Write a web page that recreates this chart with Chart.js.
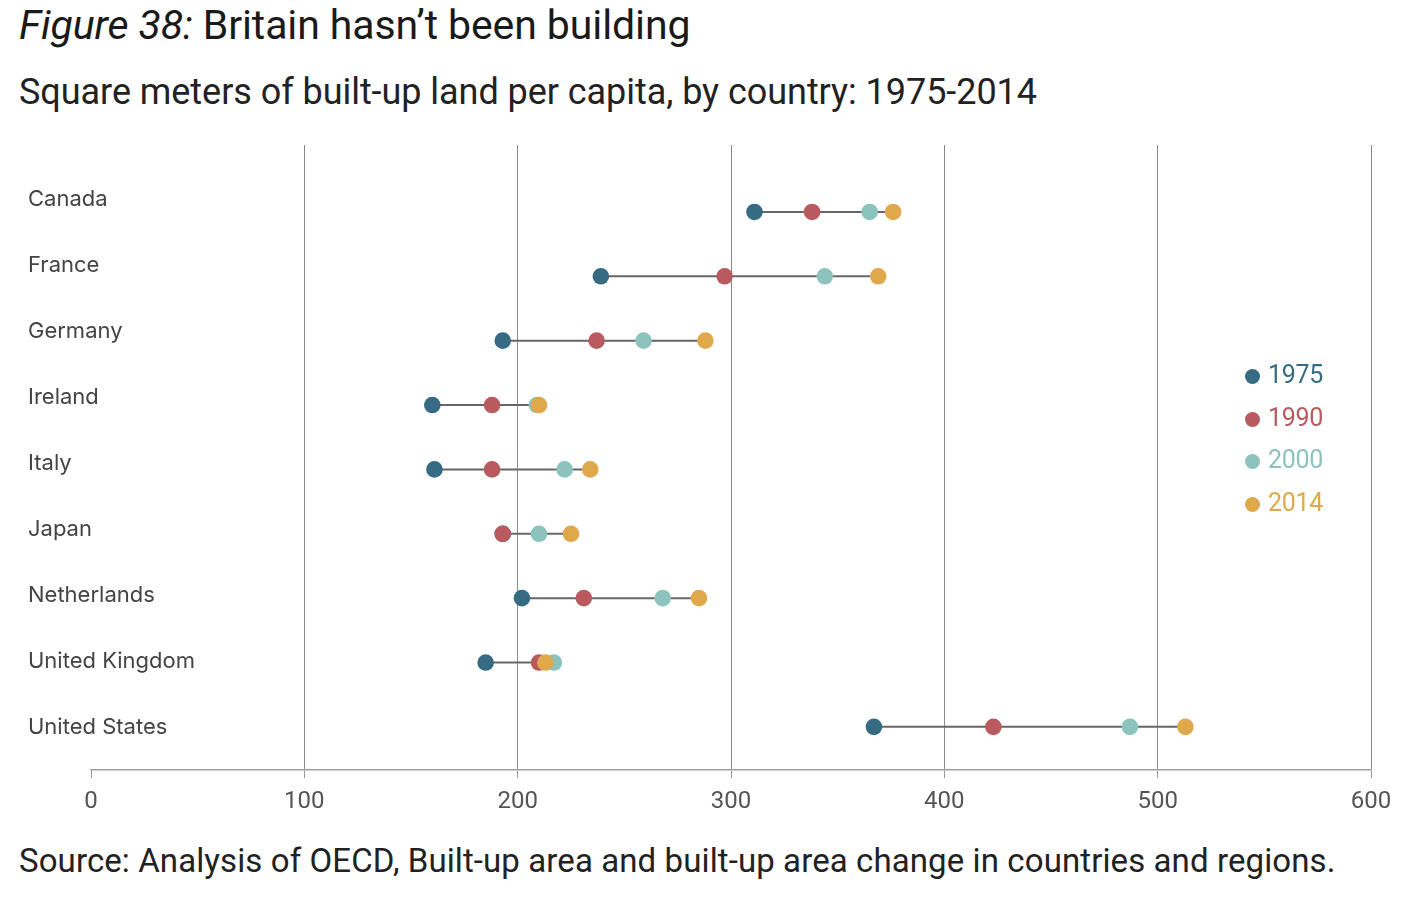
<!DOCTYPE html>
<html>
<head>
<meta charset="utf-8">
<script src="https://cdn.jsdelivr.net/npm/chart.js@4/dist/chart.umd.min.js"></script>
<style>
  html, body { margin: 0; padding: 0; background: #fff; }
  body { width: 1418px; height: 898px; position: relative; overflow: hidden; font-family: Roboto, sans-serif; color: #222; }
  .title { position: absolute; left: 19px; top: 1px; font-size: 41px; letter-spacing: -0.1px; color: #1a1a1a; white-space: nowrap; }
  .title i { font-style: italic; }
  .sub { position: absolute; left: 19px; top: 71px; font-size: 36px; letter-spacing: -0.05px; color: #222; white-space: nowrap; }
  .src { position: absolute; left: 19px; top: 841px; font-size: 33px; letter-spacing: 0.1px; color: #222; white-space: nowrap; }
  .chart-wrap { position: absolute; left: 0; top: 130px; width: 1418px; height: 700px; }
  .legend { position: absolute; left: 1245px; top: 357px; font-size: 25px; letter-spacing: -0.3px; }
  .legend div { height: 42.6px; line-height: 36px; white-space: nowrap; }
  .legend span.dot { display: inline-block; width: 15px; height: 15px; border-radius: 50%; margin-right: 8px; vertical-align: -1px; }
</style>
</head>
<body>
<div class="title"><i>Figure 38:</i> Britain hasn’t been building</div>
<div class="sub">Square meters of built-up land per capita, by country: 1975-2014</div>
<div class="chart-wrap"><canvas id="chart"></canvas></div>
<div class="legend" id="legend"></div>
<div class="src">Source: Analysis of OECD, Built-up area and built-up area change in countries and regions.</div>
<script>
// ── Data ──
const COUNTRIES = ['Canada', 'France', 'Germany', 'Ireland', 'Italy', 'Japan', 'Netherlands', 'United Kingdom', 'United States'];
const YEARS = ['1975', '1990', '2000', '2014'];
const V1975 = [311, 239, 193, 160, 161, 193, 202, 185, 367];
const V1990 = [338, 297, 237, 188, 188, 193, 231, 210, 423];
const V2000 = [365, 344, 259, 209, 222, 210, 268, 217, 487];
const V2014 = [376, 369, 288, 210, 234, 225, 285, 213, 513];
const X_TICKS = [0, 100, 200, 300, 400, 500, 600];

const COLORS = ['#376a83', '#b95a5e', '#8cc3bc', '#dfa94b'];
const SERIES = [V1975, V1990, V2000, V2014];

// ── Legend (HTML) ──
const legend = document.getElementById('legend');
YEARS.forEach((y, i) => {
  const row = document.createElement('div');
  row.style.color = COLORS[i];
  row.innerHTML = `<span class="dot" style="background:${COLORS[i]}"></span>${y}`;
  legend.appendChild(row);
});

// ── Datasets ──
// connectors sit under the dots (higher order = drawn first)
const connectors = COUNTRIES.map((c, i) => {
  const vals = SERIES.map(s => s[i]);
  return {
    type: 'line',
    label: c,
    order: 10,
    data: [{ x: Math.min(...vals), y: i }, { x: Math.max(...vals), y: i }],
    borderColor: '#666',
    borderWidth: 2,
    pointRadius: 0,
    showLine: true,
  };
});

const dots = YEARS.map((y, k) => ({
  type: 'scatter',
  label: y,
  order: 4 - k,
  data: SERIES[k].map((v, i) => ({ x: v, y: i })),
  backgroundColor: COLORS[k],
  borderWidth: 0,
  pointRadius: 8.3,
}));

new Chart(document.getElementById('chart'), {
  type: 'scatter',
  data: { datasets: [...connectors, ...dots] },
  options: {
    responsive: true, maintainAspectRatio: false, animation: false,
    layout: { padding: { left: 28, right: 47, top: 15, bottom: 0 } },
    plugins: { legend: { display: false }, tooltip: { enabled: false } },
    scales: {
      x: {
        type: 'linear', min: 0, max: 600,
        afterBuildTicks: s => { s.ticks = X_TICKS.map(v => ({ value: v })); },
        afterFit: s => { s.height = 60; },
        grid: {
          color: c => (c.tick && c.tick.value === 0 ? 'rgba(0,0,0,0)' : '#8a8a8a'),
          tickColor: '#999', tickLength: 8, lineWidth: 1,
        },
        border: { display: true, color: '#a0a0a0', width: 1.5 },
        ticks: { color: '#555', font: { family: 'Roboto', size: 24 }, padding: 10 },
      },
      y: {
        type: 'linear', reverse: true, min: -1.04, max: 8.67,
        display: false,
      },
      yl: {
        type: 'linear', position: 'left', reverse: true, min: -0.83, max: 8.64,
        afterBuildTicks: s => { s.ticks = COUNTRIES.map((c, i) => ({ value: i })); },
        afterFit: s => { s.width = 63; },
        grid: { display: false, drawTicks: false },
        border: { display: false },
        ticks: {
          mirror: true, padding: -63, color: '#444',
          font: { family: 'Inter', size: 22 },
          callback: v => COUNTRIES[v],
        },
      },
    },
  },
});
</script>
</body>
</html>
